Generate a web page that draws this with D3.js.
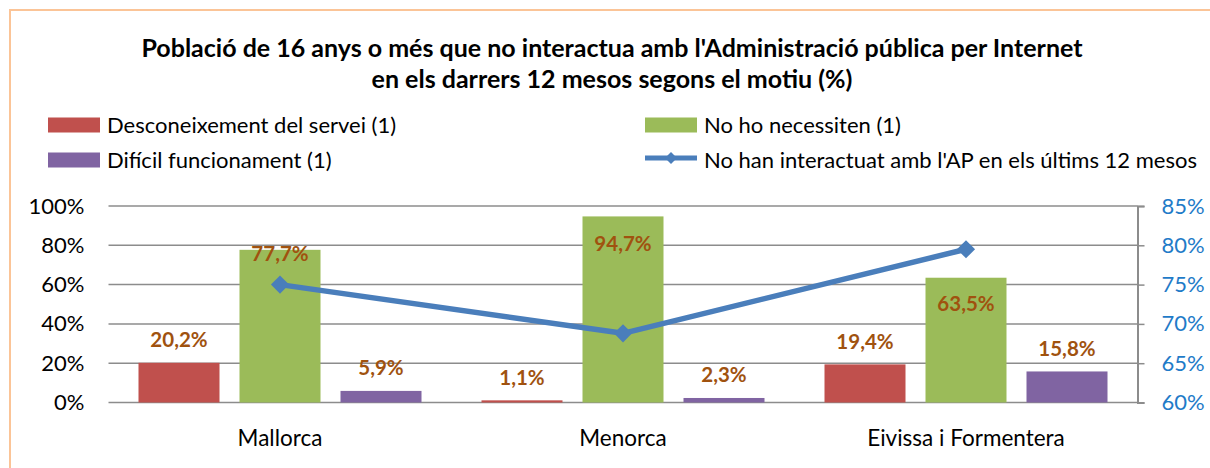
<!DOCTYPE html>
<html lang="ca">
<head>
<meta charset="utf-8">
<title>Població que no interactua amb l'Administració per Internet</title>
<script src="https://cdn.jsdelivr.net/npm/d3@7"></script>
<style>
  body { margin: 0; background: #fff; }
  svg { display: block; font-family: Lato, "Open Sans", sans-serif; }
  .tick text { font-family: Lato, "Open Sans", sans-serif; font-size: 22px; fill: #000; }
  .x .tick text { font-size: 22.5px; }
  .y2 .tick text { fill: #1f7bc8; }
  .lbl { font-size: 20.5px; font-weight: bold; fill: #a0520f; text-anchor: middle; }
  .leg { font-size: 22px; fill: #000; }
</style>
</head>
<body>
<script>
// data
var islands = ["Mallorca", "Menorca", "Eivissa i Formentera"];
var series = ["Desconeixement del servei (1)", "No ho necessiten (1)", "Difícil funcionament (1)"];
var desconeixement = [20.2, 1.1, 19.4];
var noNecessiten = [77.7, 94.7, 63.5];
var dificil = [5.9, 2.3, 15.8];
var noInteractuat = [75.0, 68.8, 79.5];
var lineName = "No han interactuat amb l'AP en els últims 12 mesos";
var leftTicks = [0, 20, 40, 60, 80, 100];
var rightTicks = [60, 65, 70, 75, 80, 85];

var colors = ["#c0504d", "#9bbb59", "#8064a2"];
var lineColor = "#4a7ebb";
var values = [desconeixement, noNecessiten, dificil];
// label placement relative to bar top (px), per series / island
var labelDy = [[-23, -23, -23], [4, 27, 26], [-23, -23, -23]];

var width = 1210, height = 468;
var svg = d3.select("body").append("svg").attr("width", width).attr("height", height);

// outer frame (cut off on the right and bottom like the original)
svg.append("rect").attr("x", 10).attr("y", 10).attr("width", 1400).attr("height", 700)
    .style("fill", "none").style("stroke", "#fbc497").style("stroke-width", 2);

// title
var title = svg.append("text").attr("text-anchor", "middle")
    .style("font-size", "25px").style("font-weight", "bold");
title.append("tspan").attr("x", 612).attr("y", 57)
    .text("Població de 16 anys o més que no interactua amb l'Administració pública per Internet");
title.append("tspan").attr("x", 612).attr("y", 88)
    .text("en els darrers 12 mesos segons el motiu (%)");

// scales
var plotTop = 206, plotBottom = 402.5, plotLeft = 108.5, plotRight = 1137.5;
var y = d3.scaleLinear().domain([0, 100]).range([plotBottom, plotTop]);
var y2 = d3.scaleLinear().domain([60, 85]).range([plotBottom, plotTop]);
var x0 = d3.scaleBand().domain(islands).range([plotLeft, plotRight]).padding(0);
var x1 = d3.scaleBand().domain(d3.range(series.length)).range([30, x0.bandwidth() - 30]).paddingInner(0.198);

var loc = d3.formatLocale({decimal: ",", thousands: ".", grouping: [3], currency: ["", "€"]});
var fmt1 = loc.format(".1f");

// gridlines
svg.append("g").selectAll("line").data(leftTicks).join("line")
    .attr("x1", plotLeft).attr("x2", plotRight)
    .attr("y1", d => y(d)).attr("y2", d => y(d))
    .style("stroke", "#8c8c8c").style("stroke-width", 1.5);

// left axis
var gy = svg.append("g").attr("transform", "translate(" + plotLeft + ",0)")
    .call(d3.axisLeft(y).tickValues(leftTicks).tickSize(0).tickPadding(24).tickFormat(d => d + "%"));
gy.select(".domain").remove();

// right axis
var gy2 = svg.append("g").attr("class", "y2").attr("transform", "translate(" + plotRight + ",0)")
    .call(d3.axisRight(y2).tickValues(rightTicks).tickSize(7).tickPadding(17).tickFormat(d => d + "%"));
gy2.select(".domain").style("stroke", "#8c8c8c").style("stroke-width", 2);
gy2.selectAll(".tick line").style("stroke", "#8c8c8c").style("stroke-width", 1.5);

// category labels
var gx = svg.append("g").attr("class", "x").attr("transform", "translate(0," + plotBottom + ")")
    .call(d3.axisBottom(x0).tickSize(0).tickPadding(28));
gx.select(".domain").remove();

// bars
var groups = svg.append("g").selectAll("g").data(islands).join("g")
    .attr("transform", d => "translate(" + x0(d) + ",0)");
groups.selectAll("rect").data((d, i) => values.map((v, s) => ({s: s, i: i, v: v[i]}))).join("rect")
    .attr("x", d => x1(d.s)).attr("width", x1.bandwidth())
    .attr("y", d => y(d.v)).attr("height", d => plotBottom - y(d.v))
    .style("fill", d => colors[d.s]);

// line on secondary axis
var cx = d => x0(d) + x0.bandwidth() / 2;
var lineData = islands.map((d, i) => [cx(d), y2(noInteractuat[i])]);
svg.append("path").datum(lineData).attr("d", d3.line())
    .style("fill", "none").style("stroke", lineColor).style("stroke-width", 5.5)
    .style("stroke-linejoin", "round");
svg.append("g").selectAll("path").data(lineData).join("path")
    .attr("d", d3.symbol(d3.symbolDiamond2, 210))
    .attr("transform", d => "translate(" + d[0] + "," + d[1] + ")")
    .style("fill", lineColor);

// data labels
groups.selectAll("text").data((d, i) => values.map((v, s) => ({s: s, i: i, v: v[i]}))).join("text")
    .attr("class", "lbl")
    .attr("x", d => x1(d.s) + x1.bandwidth() / 2)
    .attr("y", d => y(d.v) + labelDy[d.s][d.i])
    .attr("dy", "0.35em")
    .text(d => fmt1(d.v) + "%");

// legend
var legPos = [[48, 125], [645, 125], [48, 160]];
var leg = svg.append("g");
series.forEach(function(name, s) {
    var p = legPos[s];
    leg.append("rect").attr("x", p[0]).attr("y", p[1] - 7.5).attr("width", 52).attr("height", 15)
        .style("fill", colors[s]);
    leg.append("text").attr("class", "leg").attr("x", p[0] + 59).attr("y", p[1]).attr("dy", "0.35em").text(name);
});
leg.append("line").attr("x1", 645).attr("x2", 697).attr("y1", 158).attr("y2", 158)
    .style("stroke", lineColor).style("stroke-width", 5);
leg.append("path").attr("d", d3.symbol(d3.symbolDiamond2, 90))
    .attr("transform", "translate(671,158)").style("fill", lineColor);
leg.append("text").attr("class", "leg").attr("x", 704).attr("y", 160).attr("dy", "0.35em").text(lineName);
</script>
</body>
</html>
